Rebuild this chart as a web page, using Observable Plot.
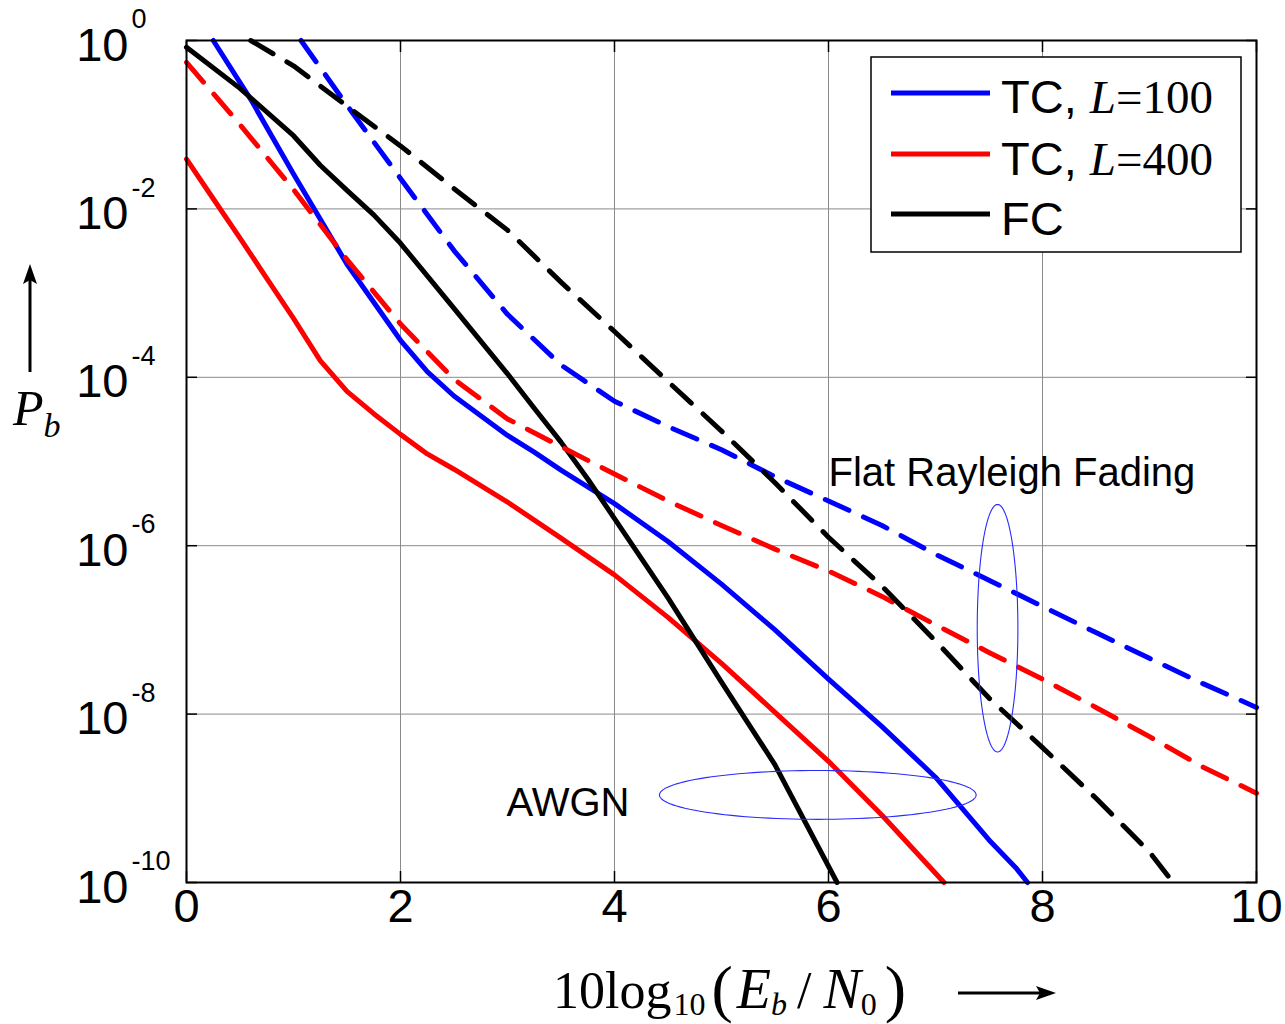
<!DOCTYPE html>
<html>
<head>
<meta charset="utf-8">
<script src="https://cdn.jsdelivr.net/npm/d3@7"></script>
<script src="https://cdn.jsdelivr.net/npm/@observablehq/plot@0.6"></script>
<style>
  html, body { margin: 0; padding: 0; background: white; overflow: hidden; }
  #chart { position: relative; width: 1285px; height: 1024px; }
</style>
</head>
<body>
<div id="chart"></div>
<script>
// ---------------- DATA ----------------
const xTicks = [0, 2, 4, 6, 8, 10];
const yTicks = [1, 1e-2, 1e-4, 1e-6, 1e-8, 1e-10];
const yTickExps = ["0", "-2", "-4", "-6", "-8", "-10"];

// TC, L=100 (AWGN, solid)
const snrTC100Awgn = [0.25, 0.6, 1.0, 1.5, 2.0, 2.25, 2.5, 3.0, 3.25, 3.5, 4.0, 4.5, 5.0, 5.5, 6.0, 6.5, 7.0, 7.5, 7.75, 7.86];
const pbTC100Awgn  = [1.0, 2.0e-1, 2.6e-2, 2.2e-3, 2.75e-4, 1.17e-4, 6.0e-5, 2.04e-5, 1.29e-5, 7.9e-6, 3.16e-6, 1.12e-6, 3.5e-7, 1.0e-7, 2.6e-8, 7.1e-9, 1.78e-9, 3.2e-10, 1.5e-10, 1.0e-10];

// TC, L=400 (AWGN, solid)
const snrTC400Awgn = [0, 0.25, 0.5, 0.75, 1.0, 1.25, 1.5, 1.75, 2.0, 2.25, 2.5, 3.0, 3.5, 4.0, 4.5, 5.0, 5.5, 6.0, 6.5, 7.08];
const pbTC400Awgn  = [3.9e-2, 1.32e-2, 4.5e-3, 1.5e-3, 5.0e-4, 1.58e-4, 6.8e-5, 3.7e-5, 2.1e-5, 1.23e-5, 8.1e-6, 3.3e-6, 1.23e-6, 4.5e-7, 1.41e-7, 4.0e-8, 1.05e-8, 2.75e-9, 6.3e-10, 1.0e-10];

// FC (AWGN, solid)
const snrFCAwgn = [0, 0.5, 1.0, 1.25, 1.5, 1.75, 2.0, 2.5, 3.0, 3.25, 3.5, 3.75, 4.0, 4.5, 5.0, 5.5, 6.08];
const pbFCAwgn  = [0.83, 0.27, 7.4e-2, 3.3e-2, 1.66e-2, 8.5e-3, 3.9e-3, 6.6e-4, 1.1e-4, 4.3e-5, 1.7e-5, 6.2e-6, 2.1e-6, 2.4e-7, 2.4e-8, 2.5e-9, 1.0e-10];

// TC, L=100 (Flat Rayleigh fading, dashed)
const snrTC100Ray = [1.07, 1.5, 2.0, 2.5, 3.0, 3.5, 4.0, 4.5, 5.0, 5.5, 6.0, 6.5, 7.0, 7.5, 8.0, 8.5, 9.0, 9.5, 10.0];
const pbTC100Ray  = [1.0, 0.17, 2.3e-2, 3.2e-3, 5.6e-4, 1.4e-4, 5.2e-5, 2.6e-5, 1.38e-5, 6.6e-6, 3.4e-6, 1.74e-6, 7.9e-7, 3.9e-7, 1.9e-7, 9.3e-8, 4.6e-8, 2.3e-8, 1.2e-8];

// TC, L=400 (Flat Rayleigh fading, dashed)
const snrTC400Ray = [0, 0.5, 1.0, 1.5, 2.0, 2.5, 3.0, 3.5, 4.0, 4.5, 5.0, 5.5, 6.0, 6.5, 7.0, 7.5, 8.0, 8.5, 9.0, 9.5, 10.0];
const pbTC400Ray  = [0.55, 0.1, 1.7e-2, 2.5e-3, 4.3e-4, 9.5e-5, 3.2e-5, 1.5e-5, 7.1e-6, 3.4e-6, 1.74e-6, 9.1e-7, 5.0e-7, 2.5e-7, 1.15e-7, 5.4e-8, 2.6e-8, 1.2e-8, 5.4e-9, 2.35e-9, 1.15e-9];

// FC (Flat Rayleigh fading, dashed)
const snrFCRay = [0.6, 1.0, 1.5, 2.0, 2.5, 3.0, 3.5, 4.0, 4.5, 5.0, 5.5, 6.0, 6.5, 7.0, 7.5, 8.0, 8.5, 9.0, 9.22];
const pbFCRay  = [1.0, 0.5, 0.166, 5.6e-2, 1.74e-2, 5.6e-3, 1.35e-3, 3.5e-4, 8.9e-5, 2.3e-5, 5.6e-6, 1.26e-6, 3.3e-7, 7.4e-8, 1.55e-8, 4.0e-9, 1.0e-9, 2.3e-10, 1.0e-10];

// Annotations
const annotationTexts = ["Flat Rayleigh Fading", "AWGN"];
const annotationX = [6.0, 3.565];
const annotationY = [7.3e-6, 8.8e-10];
const annotationAnchor = ["start", "middle"];

// Ellipses (center x, center log10 y, x radius, radius in decades)
const ellipseCx = [7.58, 5.9];
const ellipseCLog = [-6.98, -8.96];
const ellipseRx = [0.19, 1.48];
const ellipseRLog = [1.47, 0.29];

// Legend
const legendLabels = [["TC, ", "L", "=100"], ["TC, ", "L", "=400"], ["FC", "", ""]];
const legendColors = ["#0000ff", "#ff0000", "#000000"];

// ---------------- BUILD ----------------
const zip = (xs, ys) => xs.map((x, i) => ({x, y: ys[i]}));
const DASH = "26,16";
const series = [
  {data: zip(snrTC100Awgn, pbTC100Awgn), color: "#0000ff", dash: null},
  {data: zip(snrTC400Awgn, pbTC400Awgn), color: "#ff0000", dash: null},
  {data: zip(snrFCAwgn, pbFCAwgn), color: "#000000", dash: null},
  {data: zip(snrTC100Ray, pbTC100Ray), color: "#0000ff", dash: DASH},
  {data: zip(snrTC400Ray, pbTC400Ray), color: "#ff0000", dash: DASH},
  {data: zip(snrFCRay, pbFCRay), color: "#000000", dash: DASH}
];

const ellipses = ellipseCx.map((cx, k) => d3.range(0, 121).map(j => {
  const t = j / 120 * 2 * Math.PI;
  return {k, x: cx + ellipseRx[k] * Math.cos(t), y: Math.pow(10, ellipseCLog[k] + ellipseRLog[k] * Math.sin(t))};
})).flat();

const yTickData = yTicks.map((v, i) => ({v, exp: yTickExps[i]}));
const annotations = annotationTexts.map((t, i) => ({t, x: annotationX[i], y: annotationY[i], a: annotationAnchor[i]}));

const chart = Plot.plot({
  width: 1285,
  height: 1024,
  marginLeft: 186,
  marginRight: 29,
  marginTop: 40,
  marginBottom: 142,
  x: {domain: [0, 10], axis: null},
  y: {type: "log", domain: [1e-10, 1], axis: null},
  style: {fontFamily: "'Liberation Sans', Arial, sans-serif", background: "white", overflow: "visible"},
  marks: [
    Plot.ruleX(xTicks, {stroke: "#8a8a8a", strokeWidth: 1}),
    Plot.ruleY(yTicks, {stroke: "#8a8a8a", strokeWidth: 1}),
    Plot.axisX(xTicks, {anchor: "bottom", tickSize: -11, tickFormat: () => "", label: null, strokeWidth: 1.5}),
    Plot.axisX(xTicks, {anchor: "top", tickSize: -11, tickFormat: () => "", label: null, strokeWidth: 1.5}),
    Plot.axisY(yTicks, {anchor: "left", tickSize: -11, tickFormat: () => "", label: null, strokeWidth: 1.5}),
    Plot.axisY(yTicks, {anchor: "right", tickSize: -11, tickFormat: () => "", label: null, strokeWidth: 1.5}),
    ...series.map(s => Plot.line(s.data, {x: "x", y: "y", stroke: s.color, strokeWidth: 5, strokeDasharray: s.dash, strokeLinejoin: "round"})),
    Plot.line(ellipses, {x: "x", y: "y", z: "k", stroke: "#2a2aff", strokeWidth: 1.1}),
    ...annotations.map(a => Plot.text([a], {x: "x", y: "y", text: "t", textAnchor: a.a, fontSize: 40, fill: "black"})),
    Plot.frame({stroke: "black", strokeWidth: 2}),
    Plot.text(yTickData, {y: "v", frameAnchor: "left", text: () => "10", textAnchor: "end", dx: -58, dy: 5, fontSize: 47, fill: "black"}),
    Plot.text(yTickData, {y: "v", frameAnchor: "left", text: "exp", textAnchor: "start", dx: -55, dy: -21, fontSize: 27, fill: "black"}),
    Plot.text(xTicks, {x: d => d, frameAnchor: "bottom", text: d => String(d), dy: 39, fontSize: 47, fill: "black"})
  ]
});

document.getElementById("chart").appendChild(chart);

// ---------------- LEGEND & AXIS TITLES ----------------
const svg = d3.select(chart);
const sans = "'Liberation Sans', Arial, sans-serif";
const serif = "'Liberation Serif', 'Times New Roman', serif";

const lg = svg.append("g");
lg.append("rect").attr("x", 871).attr("y", 57).attr("width", 370).attr("height", 195)
  .attr("fill", "white").attr("stroke", "black").attr("stroke-width", 1.5);
const rowY = [93, 154, 214];
const rowBase = [113, 175, 235];
legendLabels.forEach((lab, i) => {
  lg.append("line").attr("x1", 891).attr("x2", 990).attr("y1", rowY[i]).attr("y2", rowY[i])
    .attr("stroke", legendColors[i]).attr("stroke-width", 5);
  const t = lg.append("text").attr("x", 1001).attr("y", rowBase[i]).attr("fill", "black")
    .attr("font-size", 47).attr("text-anchor", "start");
  t.append("tspan").attr("font-family", sans).text(lab[0]);
  if (lab[1]) t.append("tspan").attr("font-family", serif).attr("font-style", "italic").text(lab[1]);
  if (lab[2]) t.append("tspan").attr("font-family", serif).text(lab[2]);
});

// x-axis title
const xt = svg.append("text").attr("x", 553).attr("y", 1008).attr("text-anchor", "start")
  .attr("font-family", serif).attr("fill", "black").attr("font-size", 52);
xt.append("tspan").text("10log");
xt.append("tspan").attr("font-size", 32).attr("dy", 7).attr("dx", 2).text("10");
xt.append("tspan").attr("font-size", 64).attr("dy", -5).attr("dx", 6).text("(");
xt.append("tspan").attr("font-style", "italic").attr("font-size", 56).attr("dy", -2).attr("dx", 4).text("E");
xt.append("tspan").attr("font-style", "italic").attr("font-size", 32).attr("dy", 7).text("b");
xt.append("tspan").attr("dy", -7).attr("dx", 10).text("/");
xt.append("tspan").attr("font-style", "italic").attr("font-size", 56).attr("dx", 12).text("N");
xt.append("tspan").attr("font-size", 32).attr("dy", 7).text("0");
xt.append("tspan").attr("font-size", 64).attr("dy", -5).attr("dx", 8).text(")");
svg.append("line").attr("x1", 958).attr("x2", 1040).attr("y1", 993).attr("y2", 993)
  .attr("stroke", "black").attr("stroke-width", 3);
svg.append("path").attr("d", "M1056,993 L1036,986 L1040,993 L1036,1000 Z").attr("fill", "black");

// y-axis title
svg.append("line").attr("x1", 30).attr("x2", 30).attr("y1", 372).attr("y2", 280)
  .attr("stroke", "black").attr("stroke-width", 3);
svg.append("path").attr("d", "M30,264 L23,284 L30,280 L37,284 Z").attr("fill", "black");
const yt = svg.append("text").attr("x", 13).attr("y", 425).attr("text-anchor", "start")
  .attr("font-family", serif).attr("fill", "black").attr("font-size", 50);
yt.append("tspan").attr("font-style", "italic").text("P");
yt.append("tspan").attr("font-style", "italic").attr("font-size", 34).attr("dy", 12).text("b");
</script>
</body>
</html>
